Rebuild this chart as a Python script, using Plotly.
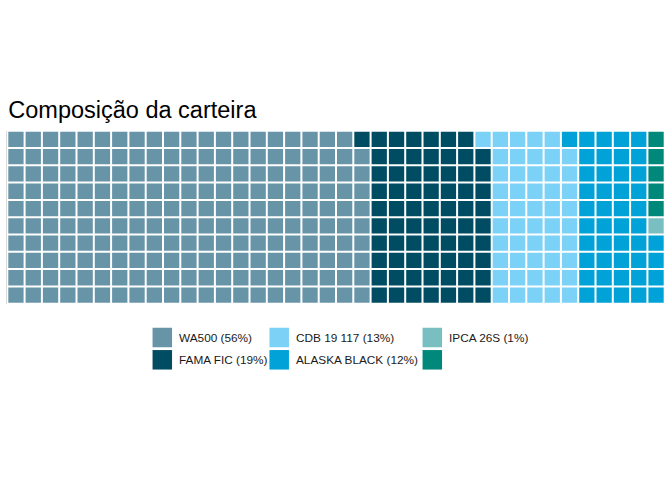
import plotly.graph_objects as go

# ---- data ----
categories = ["WA500", "FAMA FIC", "CDB 19 117", "ALASKA BLACK", "IPCA 26S", ""]
cells = [209, 70, 50, 45, 1, 5]
labels = ["WA500 (56%)", "FAMA FIC (19%)", "CDB 19 117 (13%)",
          "ALASKA BLACK (12%)", "IPCA 26S (1%)", ""]
colors = ["#6894A8", "#004D63", "#7CD1F6", "#00A2D8", "#79BFC1", "#00887A"]
n_rows = 10
title = "Composição da carteira"

W, H = 672, 480
FONT = "Liberation Sans, Arial, Helvetica, sans-serif"

fig = go.Figure()

# ---- waffle cells: filled column by column, bottom to top ----
k = 0
for cat, n, col in zip(categories, cells, colors):
    xs, ys = [], []
    for _ in range(n):
        xs.append(k // n_rows)
        ys.append(k % n_rows)
        k += 1
    fig.add_trace(go.Scatter(
        x=xs, y=ys, mode="markers", name=cat, showlegend=False,
        marker=dict(symbol="square", size=15.3, color=col, line=dict(width=0)),
        hoverinfo="name", xaxis="x", yaxis="y"))
n_cols = (k + n_rows - 1) // n_rows

# ---- manual legend (column-major, 2 rows) ----
leg_col_x = [162.3, 279.2, 432.3]
leg_row_y = [337.5, 359.8]
key = 19.5
lx, ly = [], []
for i in range(len(categories)):
    lx.append(leg_col_x[i // 2])
    ly.append(leg_row_y[i % 2])
fig.add_trace(go.Scatter(
    x=lx, y=ly, mode="markers", showlegend=False, hoverinfo="skip",
    marker=dict(symbol="square", size=key, color=colors, line=dict(width=0)),
    xaxis="x2", yaxis="y2"))
for x, y, lab in zip(lx, ly, labels):
    if lab:
        fig.add_annotation(x=x + key / 2 + 5.3, y=y, xref="x2", yref="y2",
                           text=lab, showarrow=False, xanchor="left",
                           yanchor="middle",
                           font=dict(family=FONT, size=11.8, color="#1a1a1a"))

# ---- layout ----
pitch = 17.3
x_left = 7.3
y_top = 130.7
x_right = x_left + n_cols * pitch
y_bottom = y_top + n_rows * pitch

hidden = dict(showgrid=False, zeroline=False, showticklabels=False, ticks="")
fig.update_layout(
    width=W, height=H, margin=dict(l=0, r=0, t=0, b=0),
    paper_bgcolor="white", plot_bgcolor="rgba(0,0,0,0)",
    title=dict(text=title, x=8.3 / W, xanchor="left", xref="paper",
               y=1 - 110.1 / H, yanchor="middle", yref="container",
               font=dict(family=FONT, size=23.5, color="black")),
    xaxis=dict(domain=[x_left / W, x_right / W], range=[-0.5, n_cols - 0.5],
               **hidden),
    yaxis=dict(domain=[1 - y_bottom / H, 1 - y_top / H],
               range=[-0.5, n_rows - 0.5], showline=True, linecolor="#d9d9d9",
               linewidth=1, **hidden),
    xaxis2=dict(domain=[0, 1], range=[0, W], anchor="y2", visible=False),
    yaxis2=dict(domain=[0, 1], range=[H, 0], anchor="x2", visible=False),
    showlegend=False,
)

fig.write_html("out.html")
